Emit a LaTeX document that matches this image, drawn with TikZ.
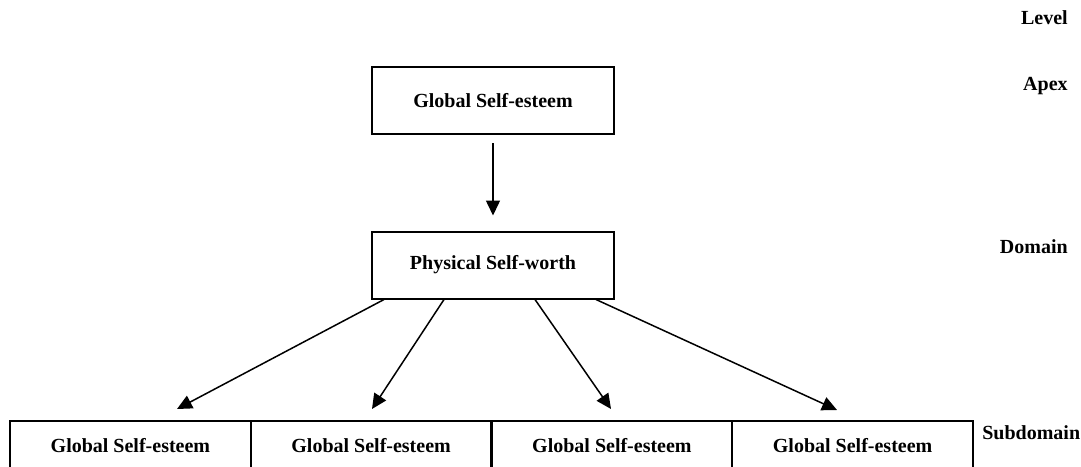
\documentclass[tikz,border=0pt]{standalone}
\usepackage{fontspec}
\setmainfont{Liberation Serif}
\usetikzlibrary{arrows.meta,calc}

\tikzset{
    lvlbox/.style={draw, line width=1.2pt, minimum width=145.2pt, minimum height=40.2pt, inner sep=0pt},
    subbox/.style={draw, line width=1.2pt, minimum width=144.45pt, minimum height=30pt, inner sep=0pt},
    link/.style={line width=0.9pt, -{Triangle[length=9pt, width=8.4pt]}},
    lvllabel/.style={inner sep=0pt}
}

\begin{document}
\begin{tikzpicture}[x=0.6pt, y=-0.6pt, font=\fontsize{12}{14}\selectfont\bfseries]
    \useasboundingbox (0,0) rectangle (1081,466);
    \clip (0,0) rectangle (1081,466);

    % Apex and domain
    \node[lvlbox] (apex) at (493,100.5) {Global Self-esteem};
    \node[lvlbox] (dom) at (493,265) {Physical Self-worth};
    \draw[link] ($(apex.south)+(0,8)$) -- ($(dom.north)+(0,-15)$);

    % Subdomains
    \foreach \i/\x in {1/130.4, 2/371.1, 3/611.9, 4/852.6}
        \node[subbox] (sub\i) at (\x,446) {Global Self-esteem};

    % Arrows from the domain down to the subdomains
    \coordinate (t1) at (177,409);
    \coordinate (t2) at (372,409);
    \coordinate (t3) at (611,409);
    \coordinate (t4) at (837,410);
    \draw[link] ($(dom.south west)+(13,0)$) -- (t1);
    \draw[link] ($(dom.south west)+(73,0)$) -- (t2);
    \draw[link] ($(dom.south west)+(164,0)$) -- (t3);
    \draw[link] ($(dom.south west)+(225,0)$) -- (t4);

    % Level labels
    \node[lvllabel, anchor=east] (lvl) at (1068,18) {Level};
    \node[lvllabel, anchor=east] (lvlapex) at (1068,86) {Apex};
    \node[lvllabel, anchor=east] (lvldom) at (1068,247) {Domain};
    \node[lvllabel, anchor=west] (lvlsub) at (982,433) {Subdomain};
\end{tikzpicture}
\end{document}
